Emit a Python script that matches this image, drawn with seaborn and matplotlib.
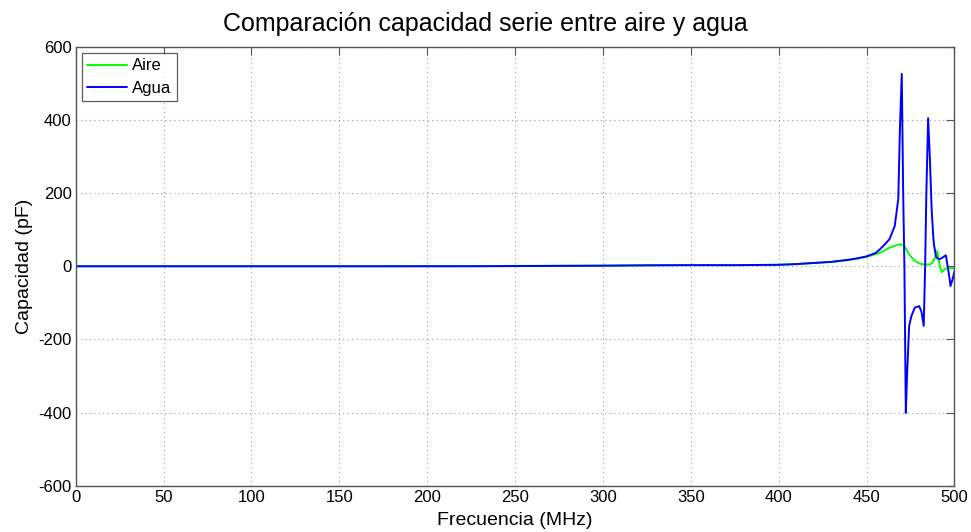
import numpy as np
import pandas as pd
import matplotlib
matplotlib.use("Agg")
import matplotlib.pyplot as plt
import seaborn as sns

# Frequency samples (MHz) and series capacitance (pF) in air and in water
freq = [0, 25, 50, 75, 100, 125, 150, 175, 200, 225, 250, 275, 300, 325,
        350, 375, 400, 410, 420, 430, 440, 445, 450, 455, 457.5, 460, 463,
        466, 468, 469, 470, 470.8, 471.5, 472.3, 473, 474.2, 475.5, 477.4,
        479.9, 481.2, 482.5, 483.3, 484, 485, 486, 487, 487.9, 488.3, 489.4,
        490.2, 491.3, 491.7, 492.6, 493.2, 494.5, 495.1, 496.4, 497.4, 497.7,
        498.9, 500]

aire = [0, 0, 0, 0, 0, 0, 0, 0, 0.5, 0.5, 1, 1.5, 2, 3,
        3.5, 3, 4, 6, 9, 12, 17, 21, 26, 33, 37, 43, 51,
        56, 59, 60, 59, 57, 55, 48, 42, 32, 25, 15,
        8, 6, 5, 5, 5, 5, 5, 8, 14, 18, 28,
        42, 10, 0, -16, -14, -8, -7, -5, -5, -5,
        -5, -5]

agua = [0, 0, 0, 0, 0, 0, 0, 0, 0, 0, 0.5, 1, 1.5, 2.5,
        3, 3, 4, 6, 9, 12, 18, 22, 27, 36, 46, 58, 74,
        110, 183, 384, 526, 202, 0, -401, -300, -163, -136, -113,
        -109, -124, -163, 1, 202, 405, 293, 156, 83, 60, 28,
        22, 19, 20, 22, 24, 28, 30, -8, -40, -54,
        -36, -13]

df = pd.DataFrame({
    "freq": freq * 2,
    "cap": aire + agua,
    "medio": ["Aire"] * len(freq) + ["Agua"] * len(freq),
})

sns.set_theme(style="white")
plt.rcParams["font.family"] = ["Liberation Sans", "DejaVu Sans"]
plt.rcParams["axes.unicode_minus"] = False
plt.rcParams["text.color"] = "black"
plt.rcParams["axes.labelcolor"] = "black"

fig = plt.figure(figsize=(9.71, 5.32), dpi=100)
ax = fig.add_axes([0.078, 0.087, 0.905, 0.825])

sns.lineplot(data=df, x="freq", y="cap", hue="medio",
             palette={"Aire": "#00ff00", "Agua": "#0000ff"},
             linewidth=1.4, ax=ax, sort=False, estimator=None)

ax.set_xlim(0, 500)
ax.set_ylim(-600, 600)
ax.set_xticks(np.arange(0, 501, 50))
ax.set_yticks(np.arange(-600, 601, 200))
ax.grid(True, linestyle=(0, (1, 3)), color="#999999", linewidth=0.8)
for s in ax.spines.values():
    s.set_color("#555555")
    s.set_linewidth(1.0)
ax.tick_params(direction="in", length=6, width=0.8, color="#555555",
               top=True, right=True, labelsize=12, pad=3, labelcolor="black")

ax.set_xlabel("Frecuencia (MHz)", fontsize=14, labelpad=5, color="black")
ax.set_ylabel("Capacidad (pF)", fontsize=14, labelpad=4, color="black")
fig.suptitle("Comparación capacidad serie entre aire y agua", fontsize=18,
             x=0.5, y=0.978, va="top", color="black")

leg = ax.legend(loc="upper left", fontsize=12, frameon=True, fancybox=False,
                handlelength=2.4, borderpad=0.3, labelspacing=0.45,
                handletextpad=0.3, borderaxespad=0.4)
leg.get_frame().set_edgecolor("#333333")
leg.get_frame().set_linewidth(0.9)
for t in leg.get_texts():
    t.set_color("black")

fig.savefig("out.png", dpi=100)
